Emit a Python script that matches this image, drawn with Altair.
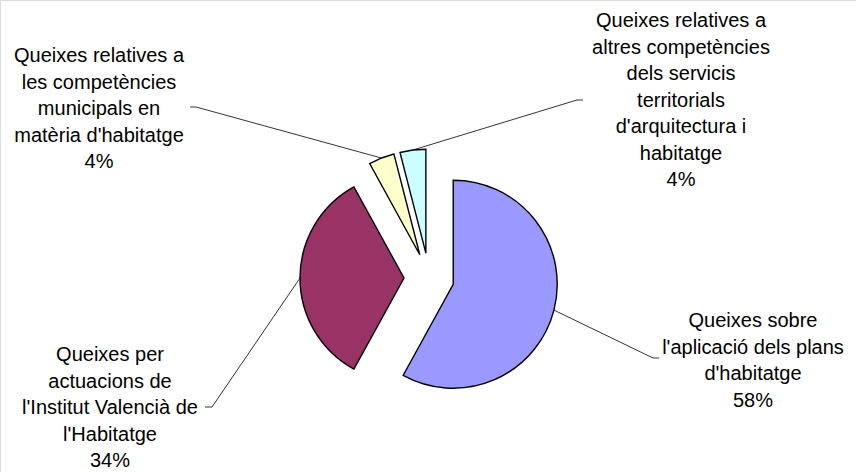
import math
import altair as alt
import pandas as pd

# Complaint categories (clockwise from 12 o'clock) and their shares in percent
categories = [
    "Queixes sobre\nl'aplicació dels plans\nd'habitatge",
    "Queixes per\nactuacions de\nl'Institut Valencià de\nl'Habitatge",
    "Queixes relatives a\nles competències\nmunicipals en\nmatèria d'habitatge",
    "Queixes relatives a\naltres competències\ndels servicis\nterritorials\nd'arquitectura i\nhabitatge",
]
shares = [58, 34, 4, 4]
colors = ["#9999FF", "#993366", "#FFFFCC", "#CCFFFF"]

# Layout (pixels): canvas, pie centre, radius and explosion distance
W, H = 856, 472
CX, CY = 429, 278
RADIUS = 104
EXPLODE = 25
FONT_SIZE = 20
LINE_HEIGHT = 26.5

# Label anchors: (centre x, baseline of first line) and leader-line elbow points
label_anchor = [(753, 327), (110, 361), (99, 62), (681, 27)]
leader_elbow = [
    [(653, 358), (659, 358)],
    [(212, 407), (205, 407)],
    [(196, 107), (190, 107)],
    [(577, 100), (583, 100)],
]

total = sum(shares)
rows, lines, labels = [], [], []
acc = 0.0
for i, (cat, v) in enumerate(zip(categories, shares)):
    start = 2 * math.pi * acc / total
    acc += v
    end = 2 * math.pi * acc / total
    mid = (start + end) / 2
    dx, dy = math.sin(mid), -math.cos(mid)
    ox, oy = CX + EXPLODE * dx, CY + EXPLODE * dy
    rows.append(dict(cat=cat, share=v, start=start, end=end, x=ox, y=oy, color=colors[i]))
    # leader line: outer edge of slice at mid-angle -> elbow -> label
    pts = [(ox + RADIUS * dx, oy + RADIUS * dy)] + leader_elbow[i]
    for k, (px, py) in enumerate(pts):
        lines.append(dict(slice=i, order=k, x=px, y=py))
    lx, ly = label_anchor[i]
    labels.append(dict(text=f"{cat}\n{v}%", x=lx, y=ly))

slices = pd.DataFrame(rows)
leaders = pd.DataFrame(lines)
texts = pd.DataFrame(labels)

xs = alt.Scale(domain=[0, W], range=[0, W])
ys = alt.Scale(domain=[0, H], range=[0, H])

pie = alt.Chart(slices).mark_arc(
    outerRadius=RADIUS, stroke="black", strokeWidth=1.4, strokeJoin="miter"
).encode(
    x=alt.X("x:Q", scale=xs, axis=None),
    y=alt.Y("y:Q", scale=ys, axis=None),
    theta=alt.Theta("start:Q", scale=None),
    theta2=alt.Theta2("end:Q"),
    color=alt.Color("color:N", scale=None, legend=None),
)

leader = alt.Chart(leaders).mark_line(color="black", strokeWidth=0.8).encode(
    x=alt.X("x:Q", scale=xs, axis=None),
    y=alt.Y("y:Q", scale=ys, axis=None),
    detail="slice:N",
    order="order:Q",
)

text = alt.Chart(texts).mark_text(
    font="Liberation Sans",
    fontSize=FONT_SIZE,
    lineBreak="\n",
    lineHeight=LINE_HEIGHT,
    align="center",
    baseline="alphabetic",
    color="black",
).encode(
    x=alt.X("x:Q", scale=xs, axis=None),
    y=alt.Y("y:Q", scale=ys, axis=None),
    text="text:N",
)

chart = (
    alt.layer(leader, pie, text)
    .properties(width=W, height=H, padding=0, autosize=alt.AutoSizeParams(type="none"))
    .configure_view(stroke=None)
    .configure(background="white")
)

chart.save("out.html", embed_options={"renderer": "svg", "actions": False})
